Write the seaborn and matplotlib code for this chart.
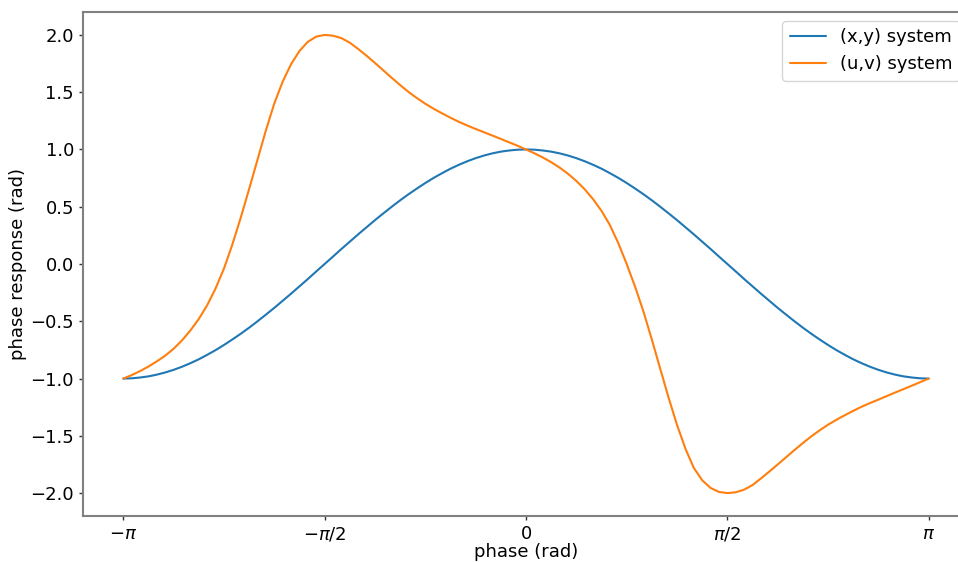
import numpy as np
import pandas as pd
import matplotlib
matplotlib.use("Agg")
import matplotlib.pyplot as plt
import seaborn as sns

# phase grid: -pi .. pi in steps of pi/48
phase = np.linspace(-np.pi, np.pi, 97)

# phase response of the (x,y) system
response_xy = [
    -1.000, -0.998, -0.991, -0.981, -0.966, -0.947, -0.924, -0.897, -0.866, -0.832,
    -0.793, -0.752, -0.707, -0.659, -0.609, -0.556, -0.500, -0.442, -0.383, -0.321,
    -0.259, -0.195, -0.131, -0.065, 0.000, 0.065, 0.131, 0.195, 0.259, 0.321,
    0.383, 0.442, 0.500, 0.556, 0.609, 0.659, 0.707, 0.752, 0.793, 0.832,
    0.866, 0.897, 0.924, 0.947, 0.966, 0.981, 0.991, 0.998, 1.000,
    0.998, 0.991, 0.981, 0.966, 0.947, 0.924, 0.897, 0.866, 0.832,
    0.793, 0.752, 0.707, 0.659, 0.609, 0.556, 0.500, 0.442, 0.383, 0.321,
    0.259, 0.195, 0.131, 0.065, 0.000, -0.065, -0.131, -0.195, -0.259, -0.321,
    -0.383, -0.442, -0.500, -0.556, -0.609, -0.659, -0.707, -0.752, -0.793, -0.832,
    -0.866, -0.897, -0.924, -0.947, -0.966, -0.981, -0.991, -0.998, -1.000,
]

# phase response of the (u,v) system
response_uv = [
    -1.000, -0.970, -0.935, -0.895, -0.850, -0.800, -0.740, -0.667, -0.580, -0.480,
    -0.360, -0.214, -0.040, 0.170, 0.404, 0.655, 0.911, 1.167, 1.402, 1.592,
    1.745, 1.860, 1.940, 1.985, 2.000, 1.993, 1.972, 1.932, 1.877, 1.818,
    1.755, 1.690, 1.625, 1.562, 1.502, 1.448, 1.399, 1.355, 1.315, 1.277,
    1.241, 1.209, 1.179, 1.150, 1.121, 1.092, 1.062, 1.032, 1.000,
    0.967, 0.930, 0.889, 0.842, 0.788, 0.725, 0.652, 0.565, 0.464,
    0.340, 0.182, 0.000, -0.198, -0.415, -0.660, -0.915, -1.168, -1.405, -1.612,
    -1.780, -1.888, -1.955, -1.990, -2.000, -1.993, -1.970, -1.930, -1.872, -1.812,
    -1.750, -1.687, -1.624, -1.563, -1.505, -1.452, -1.403, -1.360, -1.320, -1.282,
    -1.246, -1.214, -1.184, -1.153, -1.122, -1.092, -1.062, -1.031, -1.000,
]

series_names = ["(x,y) system", "(u,v) system"]
tick_pos = [-np.pi, -np.pi / 2, 0, np.pi / 2, np.pi]
tick_labels = [r"$-\pi$", r"$-\pi/2$", "0", r"$\pi/2$", r"$\pi$"]
y_ticks = [-2.0, -1.5, -1.0, -0.5, 0.0, 0.5, 1.0, 1.5, 2.0]

df = pd.DataFrame({
    "phase": np.concatenate([phase, phase]),
    "response": np.concatenate([response_xy, response_uv]),
    "system": [series_names[0]] * len(phase) + [series_names[1]] * len(phase),
})

sns.set_style("white")
plt.rcParams["font.family"] = ["DejaVu Sans"]
plt.rcParams["text.color"] = "black"
plt.rcParams["axes.labelcolor"] = "black"
plt.rcParams["xtick.color"] = "black"
plt.rcParams["ytick.color"] = "black"

fig = plt.figure(figsize=(9.58, 5.62), dpi=100)
ax = fig.add_axes([83 / 958, 46 / 562, 886 / 958, 504 / 562])

sns.lineplot(data=df, x="phase", y="response", hue="system",
             palette=["#1f77b4", "#ff7f0e"], linewidth=1.5, ax=ax,
             estimator=None, sort=False)

ax.set_xlim(-np.pi - 0.1 * np.pi, np.pi + 0.1 * np.pi)
ax.set_ylim(-2.2, 2.2)
ax.set_xticks(tick_pos)
ax.set_xticklabels(tick_labels)
ax.set_yticks(y_ticks)
ax.set_yticklabels([f"{v:.1f}".replace("-", "\u2212") for v in y_ticks])

ax.set_xlabel("phase (rad)", fontsize=13, labelpad=0, color="black")
ax.set_ylabel("phase response (rad)", fontsize=13, labelpad=2, color="black")
ax.tick_params(axis="both", which="major", labelsize=13, direction="out",
               length=3, width=1, color="#333333", labelcolor="black",
               left=True, bottom=True, pad=3.5)

for side, spine in ax.spines.items():
    spine.set_color("#808080")
    spine.set_linewidth(1.5)

leg = ax.legend(loc="upper right", fontsize=13, frameon=True, title=None)
leg.get_frame().set_edgecolor("#cccccc")
for txt in leg.get_texts():
    txt.set_color("black")

fig.savefig("out.png", dpi=100)
